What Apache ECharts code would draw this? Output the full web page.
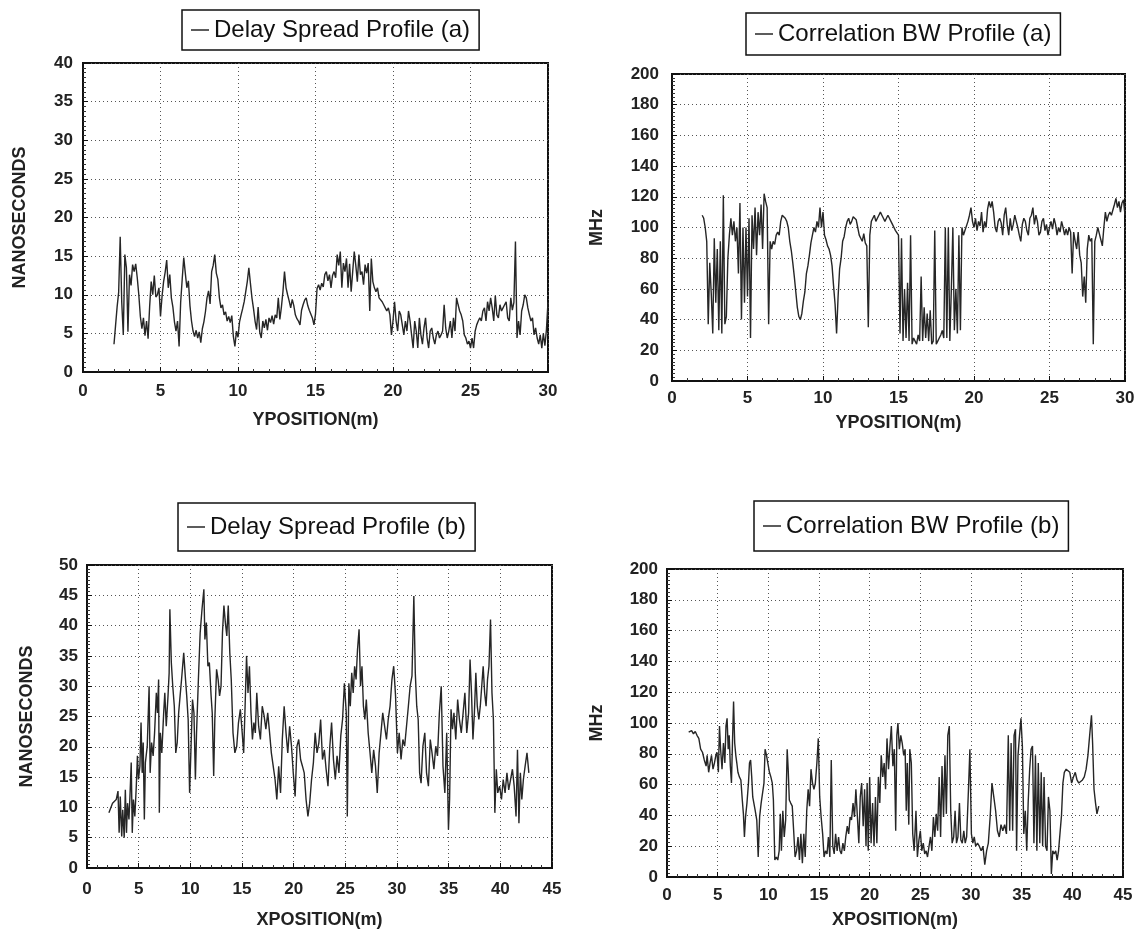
<!DOCTYPE html>
<html>
<head>
<meta charset="utf-8">
<title>Delay spread and correlation bandwidth profiles</title>
<script src="https://cdn.jsdelivr.net/npm/echarts@6/dist/echarts.min.js"></script>
<style>
  html, body { margin: 0; padding: 0; background: #fff; }
  #chart { width: 1140px; height: 937px; }
</style>
</head>
<body>
<div id="chart"></div>
<script>
// (a) runs: sampled every 0.1 m from 2.0 m to 30.0 m along Y
var delayA = [
  3.6, 6.0, 8.4, 10.3, 17.5, 9.0, 4.8, 15.2, 13.5, 5.2,
  12.6, 11.2, 13.9, 13.0, 14.0, 12.2, 10.0, 7.2, 5.6, 7.0,
  4.7, 6.6, 4.3, 8.5, 11.7, 10.0, 12.5, 9.7, 10.0, 10.9,
  7.2, 9.8, 11.7, 12.9, 14.5, 10.9, 12.6, 9.6, 8.4, 6.5,
  5.3, 6.6, 3.3, 9.0, 12.0, 14.8, 12.8, 10.9, 11.8, 8.6,
  6.6, 5.3, 4.6, 5.4, 4.4, 5.2, 3.8, 5.6, 6.5, 7.8,
  9.6, 10.5, 8.8, 13.0, 13.8, 15.2, 12.8, 12.0, 9.6, 8.3,
  8.7, 7.4, 7.8, 6.6, 7.2, 6.4, 7.3, 4.6, 3.3, 5.3,
  4.5, 6.5, 7.4, 8.2, 9.1, 10.4, 11.7, 13.5, 11.5, 9.6,
  8.2, 6.6, 5.5, 8.4, 5.2, 4.4, 6.6, 5.7, 6.8, 5.4,
  7.0, 6.4, 7.3, 6.2, 7.4, 7.0, 9.6, 6.8, 8.4, 10.4,
  13.0, 10.9, 10.0, 9.2, 8.3, 9.4, 8.6, 7.4, 6.9, 6.6,
  6.1, 8.0, 8.7, 9.3, 9.6, 8.6, 8.0, 7.9, 7.0, 6.1,
  7.5, 10.8, 11.3, 10.6, 11.5, 11.0, 12.6, 13.0, 11.8, 12.6,
  10.9, 12.5, 13.0, 12.2, 15.2, 13.8, 15.6, 10.9, 14.1, 13.0,
  14.7, 10.9, 14.0, 10.4, 13.0, 15.6, 13.8, 11.7, 15.2, 12.6,
  13.0, 11.3, 13.9, 12.8, 14.1, 7.9, 14.7, 11.7, 10.9, 10.4,
  10.9, 9.6, 9.6, 9.1, 8.7, 8.3, 7.9, 8.3, 7.4, 4.8,
  6.6, 9.1, 6.6, 5.3, 7.9, 7.4, 6.1, 4.8, 6.6, 5.3,
  7.9, 6.6, 4.8, 3.1, 6.6, 5.3, 3.1, 7.0, 4.8, 3.6,
  5.7, 7.0, 4.4, 3.1, 5.3, 5.7, 4.4, 3.6, 4.8, 5.3,
  4.4, 4.8, 5.3, 8.7, 5.7, 4.4, 5.3, 6.6, 4.4, 7.0,
  5.3, 9.6, 8.7, 7.9, 7.4, 6.6, 4.8, 4.4, 3.6, 4.0,
  3.1, 4.4, 3.1, 5.3, 6.1, 6.6, 7.0, 6.6, 7.9, 8.3,
  6.6, 9.1, 7.9, 9.6, 8.3, 6.6, 9.9, 7.4, 7.0, 8.7,
  7.9, 8.3, 8.7, 9.1, 7.0, 6.6, 9.6, 8.0, 9.0, 16.9,
  4.4, 6.6, 4.8, 7.9, 8.7, 10.0, 9.6, 8.3, 7.4, 6.6,
  7.0, 4.8, 5.7, 4.4, 3.6, 4.8, 3.1, 5.0, 3.4, 5.5,
  9.1
];

var corrA = [
  108, 106, 100, 91, 37, 77, 57, 31, 93, 51,
  86, 33, 91, 31, 121, 37, 42, 80, 95, 106,
  95, 104, 91, 100, 70, 116, 40, 100, 51, 100,
  55, 106, 28, 108, 86, 113, 82, 110, 95, 115,
  86, 122, 117, 113, 37, 91, 86, 91, 89, 95,
  97, 95, 104, 108, 107, 106, 104, 100, 91, 85,
  77, 68, 58, 48, 42, 40, 44, 52, 58, 70,
  75, 82, 90, 95, 100, 97, 104, 100, 113, 100,
  110, 95, 92, 88, 86, 82, 75, 62, 50, 31,
  55, 73, 80, 91, 94, 100, 104, 106, 102, 104,
  107, 106, 105, 100, 95, 93, 91, 96, 90, 88,
  35, 95, 104, 106, 108, 104, 106, 108, 110, 108,
  106, 104, 106, 108, 106, 104, 102, 100, 98, 97,
  95, 31, 93, 26, 60, 28, 64, 26, 95, 24,
  28, 26, 24, 30, 26, 68, 26, 48, 28, 44,
  26, 46, 24, 26, 98, 24, 26, 28, 30, 33,
  28, 100, 28, 100, 26, 60, 100, 33, 60, 31,
  95, 33, 100, 95, 98, 97, 104, 108, 113, 104,
  100, 106, 98, 104, 101, 110, 97, 104, 100, 112,
  117, 113, 117, 110, 100, 97, 104, 106, 103, 95,
  108, 113, 102, 95, 106, 98, 102, 108, 104, 100,
  95, 91, 102, 106, 104, 98, 95, 106, 108, 113,
  102, 108, 104, 95, 97, 104, 106, 98, 102, 95,
  100, 104, 99, 106, 102, 95, 100, 97, 104, 100,
  95, 99, 95, 100, 97, 70, 97, 91, 86, 97,
  82, 77, 55, 68, 51, 86, 95, 91, 93, 24,
  91, 95, 100, 96, 92, 88, 100, 110, 104, 108,
  110, 108, 109, 115, 119, 113, 117, 110, 116, 118,
  108
];

// the Y grid the (a) values were read on
var yPosA = delayA.map(function (v, i) { return +(2 + i * 0.1).toFixed(1); });

// (b) runs along X, read point by point
var delayBX = [
  2.12, 2.30, 2.47, 2.65, 2.83, 3.00, 3.11, 3.22, 3.36, 3.46, 3.60, 3.71, 3.82, 3.92,
  4.06, 4.17, 4.28, 4.38, 4.49, 4.63, 4.77, 4.88, 4.98, 5.12, 5.23, 5.34, 5.44, 5.55,
  5.65, 5.83, 6.01, 6.11, 6.25, 6.40, 6.54, 6.71, 6.82, 6.93, 7.00, 7.10, 7.24, 7.42,
  7.53, 7.67, 7.84, 7.95, 8.02, 8.16, 8.30, 8.45, 8.59, 8.73, 8.87, 9.01, 9.15, 9.36,
  9.51, 9.65, 9.79, 9.93, 10.07, 10.21, 10.35, 10.49, 10.60, 10.78, 10.95, 11.13, 11.31, 11.41,
  11.55, 11.70, 11.84, 12.01, 12.12, 12.26, 12.37, 12.54, 12.69, 12.83, 12.97, 13.11, 13.25, 13.39,
  13.53, 13.67, 13.82, 13.96, 14.13, 14.31, 14.49, 14.66, 14.84, 15.02, 15.16, 15.30, 15.44, 15.58,
  15.72, 15.87, 16.01, 16.15, 16.29, 16.43, 16.61, 16.78, 16.96, 17.14, 17.31, 17.49, 17.67, 17.84,
  18.02, 18.20, 18.37, 18.55, 18.73, 18.90, 19.08, 19.26, 19.43, 19.61, 19.79, 19.96, 20.14, 20.32,
  20.49, 20.67, 20.85, 21.02, 21.20, 21.38, 21.55, 21.73, 21.91, 22.08, 22.26, 22.44, 22.61, 22.79,
  22.97, 23.14, 23.32, 23.50, 23.67, 23.85, 24.03, 24.20, 24.38, 24.56, 24.73, 24.91, 25.09, 25.19,
  25.34, 25.48, 25.62, 25.76, 25.90, 26.04, 26.18, 26.33, 26.47, 26.61, 26.75, 26.89, 27.03, 27.21,
  27.39, 27.56, 27.74, 27.92, 28.09, 28.27, 28.45, 28.62, 28.80, 28.98, 29.15, 29.33, 29.51, 29.68,
  29.86, 30.04, 30.21, 30.39, 30.57, 30.74, 30.92, 31.10, 31.27, 31.45, 31.63, 31.77, 31.91, 32.05,
  32.19, 32.33, 32.51, 32.69, 32.86, 33.04, 33.22, 33.39, 33.57, 33.75, 33.92, 34.10, 34.28, 34.45,
  34.63, 34.81, 34.98, 35.09, 35.23, 35.37, 35.51, 35.69, 35.87, 36.04, 36.22, 36.40, 36.57, 36.75,
  36.93, 37.07, 37.21, 37.35, 37.49, 37.63, 37.77, 37.92, 38.06, 38.20, 38.34, 38.48, 38.62, 38.76,
  38.90, 39.05, 39.19, 39.33, 39.47, 39.61, 39.75, 39.93, 40.11, 40.28, 40.46, 40.64, 40.81, 40.99,
  41.17, 41.34, 41.52, 41.66, 41.80, 41.94, 42.08, 42.23, 42.40, 42.58, 42.76
];
var delayB = [
  9.1, 8.8, 10.7, 11.0, 11.3, 12.7, 5.8, 11.8, 5.2, 9.6, 5.0, 12.9, 5.8, 10.7,
  8.0, 12.4, 17.4, 5.8, 11.3, 8.5, 13.5, 18.5, 14.6, 16.8, 24.0, 15.7, 20.7, 8.0,
  17.4, 20.1, 30.0, 15.7, 20.7, 18.5, 22.3, 28.9, 25.6, 31.1, 9.1, 22.3, 19.0, 25.6,
  28.9, 23.4, 28.4, 32.2, 42.7, 33.9, 30.0, 26.7, 19.0, 20.7, 25.6, 28.4, 31.1, 35.5,
  31.7, 28.4, 24.5, 12.4, 20.1, 27.8, 25.6, 14.6, 22.3, 31.1, 38.8, 42.7, 46.0, 37.7,
  40.5, 33.3, 33.9, 28.4, 25.6, 15.2, 24.5, 32.8, 31.1, 28.4, 30.0, 38.8, 43.3, 40.5,
  38.3, 43.3, 35.5, 31.1, 22.3, 19.0, 20.1, 24.0, 26.2, 22.3, 19.0, 26.7, 35.0, 28.9,
  33.3, 25.6, 21.2, 24.0, 22.3, 28.9, 23.4, 21.2, 26.7, 25.1, 22.9, 25.6, 22.3, 19.0,
  16.8, 14.6, 11.3, 16.8, 12.4, 21.2, 26.7, 22.3, 19.0, 23.4, 20.1, 15.7, 11.8, 20.1,
  21.2, 17.9, 16.8, 15.7, 11.3, 8.5, 10.7, 14.6, 17.4, 22.3, 19.0, 20.7, 24.5, 17.9,
  19.5, 16.3, 13.5, 20.1, 24.0, 17.9, 14.6, 18.5, 15.7, 21.8, 24.5, 30.5, 25.6, 8.5,
  30.5, 26.7, 32.2, 28.9, 33.3, 31.1, 36.1, 39.4, 30.0, 33.3, 26.7, 24.5, 27.8, 22.3,
  19.0, 15.7, 19.5, 16.8, 12.4, 19.0, 22.3, 25.6, 23.4, 21.2, 24.5, 26.7, 31.1, 33.3,
  28.4, 19.0, 22.3, 17.9, 21.2, 20.1, 23.4, 26.7, 30.0, 31.7, 44.9, 32.2, 26.7, 24.5,
  15.7, 14.0, 20.1, 22.3, 15.7, 13.5, 21.2, 19.0, 16.3, 20.1, 18.5, 25.6, 30.0, 16.8,
  12.4, 22.3, 6.3, 11.3, 26.2, 22.9, 25.6, 21.2, 27.8, 24.5, 22.3, 25.6, 28.9, 22.3,
  25.6, 34.4, 28.9, 21.2, 25.6, 32.2, 26.7, 24.5, 26.7, 30.0, 33.3, 28.9, 26.7, 31.1,
  33.3, 41.0, 28.9, 24.5, 9.1, 16.3, 12.4, 13.5, 11.3, 14.6, 12.4, 15.7, 12.9, 14.6,
  16.3, 13.5, 8.5, 19.5, 7.4, 15.7, 11.3, 14.6, 16.8, 19.0, 15.7
];

var corrBX = [
  2.14, 2.43, 2.61, 2.79, 2.96, 3.14, 3.32, 3.50, 3.68, 3.86, 3.96, 4.11, 4.25, 4.39,
  4.54, 4.68, 4.82, 4.93, 5.07, 5.18, 5.29, 5.43, 5.57, 5.71, 5.82, 5.93, 6.04, 6.14,
  6.25, 6.36, 6.46, 6.57, 6.68, 6.79, 6.89, 7.00, 7.14, 7.29, 7.43, 7.54, 7.64, 7.75,
  7.89, 8.04, 8.14, 8.25, 8.36, 8.46, 8.57, 8.71, 8.86, 9.00, 9.14, 9.29, 9.43, 9.57,
  9.68, 9.82, 9.96, 10.11, 10.25, 10.39, 10.50, 10.64, 10.79, 10.93, 11.07, 11.18, 11.29, 11.43,
  11.57, 11.71, 11.86, 11.96, 12.07, 12.21, 12.36, 12.50, 12.64, 12.79, 12.93, 13.07, 13.21, 13.36,
  13.50, 13.64, 13.79, 13.93, 14.07, 14.21, 14.36, 14.50, 14.64, 14.79, 14.93, 15.07, 15.21, 15.36,
  15.50, 15.64, 15.79, 15.93, 16.07, 16.21, 16.36, 16.50, 16.64, 16.79, 16.93, 17.07, 17.21, 17.36,
  17.50, 17.64, 17.79, 17.93, 18.07, 18.21, 18.36, 18.50, 18.64, 18.79, 18.93, 19.07, 19.21, 19.36,
  19.50, 19.64, 19.75, 19.86, 20.00, 20.14, 20.29, 20.43, 20.57, 20.71, 20.86, 21.00, 21.14, 21.29,
  21.43, 21.57, 21.71, 21.86, 22.00, 22.14, 22.29, 22.43, 22.57, 22.68, 22.79, 22.93, 23.07, 23.21,
  23.36, 23.50, 23.61, 23.71, 23.86, 23.96, 24.11, 24.25, 24.39, 24.57, 24.71, 24.86, 25.00, 25.14,
  25.29, 25.43, 25.57, 25.71, 25.86, 26.00, 26.14, 26.29, 26.43, 26.57, 26.71, 26.86, 27.00, 27.14,
  27.29, 27.43, 27.57, 27.71, 27.86, 28.00, 28.14, 28.29, 28.43, 28.57, 28.71, 28.86, 29.00, 29.14,
  29.29, 29.43, 29.57, 29.75, 29.89, 30.04, 30.18, 30.32, 30.46, 30.64, 30.82, 31.00, 31.18, 31.36,
  31.54, 31.71, 31.89, 32.07, 32.25, 32.43, 32.61, 32.79, 32.96, 33.14, 33.32, 33.50, 33.68, 33.82,
  33.96, 34.11, 34.25, 34.39, 34.50, 34.64, 34.79, 34.93, 35.07, 35.21, 35.36, 35.50, 35.64, 35.79,
  35.93, 36.07, 36.21, 36.36, 36.50, 36.64, 36.79, 36.93, 37.07, 37.21, 37.36, 37.50, 37.64, 37.79,
  37.93, 38.07, 38.21, 38.36, 38.50, 38.64, 38.79, 38.93, 39.07, 39.21, 39.39, 39.57, 39.75, 39.93,
  40.11, 40.29, 40.46, 40.64, 40.82, 41.00, 41.18, 41.36, 41.54, 41.71, 41.89, 42.00, 42.14, 42.29,
  42.43, 42.61
];
var corrB = [
  94, 95, 93, 94.5, 92, 90, 83, 81, 76, 72, 79, 68, 74, 79,
  70, 74, 79, 81, 68, 98, 83, 70, 87, 74, 98, 103, 83, 92,
  72, 61, 87, 114, 87, 79, 74, 68, 65, 63, 50, 41, 26, 39,
  48, 61, 74, 76, 65, 52, 52, 43, 37, 13, 39, 48, 48, 61,
  83, 79, 79, 68, 65, 61, 50, 11, 13, 11, 17, 41, 17, 43,
  26, 37, 83, 70, 50, 48, 46, 30, 13, 17, 26, 11, 28, 9,
  28, 13, 43, 57, 46, 70, 61, 57, 61, 74, 90, 52, 39, 28,
  13, 17, 15, 26, 13, 76, 20, 15, 28, 17, 26, 17, 15, 22,
  17, 26, 33, 28, 39, 37, 48, 39, 57, 39, 22, 52, 61, 33,
  57, 20, 61, 17, 65, 22, 48, 20, 52, 22, 65, 48, 79, 65,
  74, 57, 90, 70, 85, 98, 72, 83, 30, 92, 100, 83, 92, 87,
  79, 83, 43, 74, 34, 83, 74, 28, 17, 43, 13, 24, 30, 17,
  22, 15, 17, 13, 20, 26, 17, 39, 26, 41, 30, 65, 26, 72,
  39, 79, 41, 92, 98, 43, 22, 26, 43, 22, 26, 48, 24, 22,
  30, 22, 26, 57, 83, 28, 22, 26, 20, 22, 20, 17, 20, 8,
  17, 22, 39, 61, 52, 43, 30, 26, 34, 30, 34, 28, 92, 30,
  87, 30, 92, 96, 17, 79, 92, 103, 85, 28, 43, 17, 48, 70,
  83, 85, 22, 79, 17, 74, 22, 68, 20, 65, 20, 17, 52, 43,
  2, 17, 15, 17, 11, 17, 17, 40, 61, 68, 70, 70, 68, 61,
  65, 68, 63, 61, 61, 63, 65, 70, 79, 92, 105, 87, 57, 48,
  41, 46
];

var FONT = '"Liberation Sans", Arial, Helvetica, sans-serif';
var INK = '#111';
var TRACE = '#262626';

function pairs(xs, ys) {
  return ys.map(function (v, i) { return [xs[i], v]; });
}

function legendBox(name, left, top, padV) {
  return {
    data: [name],
    left: left,
    top: top,
    selectedMode: false,
    borderColor: INK,
    borderWidth: 1.5,
    padding: [padV, 9],
    icon: 'rect',
    itemWidth: 18,
    itemHeight: 1.5,
    textStyle: { fontFamily: FONT, fontSize: 24, color: INK }
  };
}

function xAxisFor(idx, max, name, labelMargin, nameGap) {
  return {
    gridIndex: idx,
    type: 'value',
    min: 0,
    max: max,
    interval: 5,
    name: name,
    nameLocation: 'middle',
    nameGap: nameGap,
    nameTextStyle: { fontFamily: FONT, fontSize: 18, fontWeight: 'bold', color: '#222' },
    axisLine: { show: true, onZero: false, lineStyle: { color: INK, width: 2 } },
    axisTick: { show: true, inside: true, length: 5, lineStyle: { color: INK, width: 1 } },
    minorTick: { show: true, splitNumber: 5, length: 3, lineStyle: { color: '#333' } },
    splitLine: { show: true, lineStyle: { color: '#555', width: 1, type: [1, 3] } },
    axisLabel: { fontFamily: FONT, fontSize: 17, fontWeight: 'bold', color: '#222', margin: labelMargin }
  };
}

function yAxisFor(idx, max, step, name, labelMargin, nameGap) {
  return {
    gridIndex: idx,
    type: 'value',
    min: 0,
    max: max,
    interval: step,
    name: name,
    nameLocation: 'middle',
    nameRotate: 90,
    nameGap: nameGap,
    nameTextStyle: { fontFamily: FONT, fontSize: 18, fontWeight: 'bold', color: '#222' },
    axisLine: { show: true, onZero: false, lineStyle: { color: INK, width: 2 } },
    axisTick: { show: true, inside: true, length: 5, lineStyle: { color: INK, width: 1 } },
    minorTick: { show: true, splitNumber: 8, length: 3, lineStyle: { color: '#333' } },
    splitLine: { show: true, lineStyle: { color: '#555', width: 1, type: [1, 3] } },
    axisLabel: { fontFamily: FONT, fontSize: 17, fontWeight: 'bold', color: '#222', margin: labelMargin }
  };
}

function trace(name, idx, data) {
  return {
    name: name,
    type: 'line',
    xAxisIndex: idx,
    yAxisIndex: idx,
    data: data,
    showSymbol: false,
    symbol: 'none',
    color: TRACE,
    lineStyle: { color: TRACE, width: 1.4 }
  };
}

var chart = echarts.init(document.getElementById('chart'));
chart.setOption({
  animation: false,
  backgroundColor: '#fff',
  textStyle: { fontFamily: FONT },
  legend: [
    legendBox('Delay Spread Profile (a)', 182, 10, 8),
    legendBox('Correlation BW Profile (a)', 746, 13, 9),
    legendBox('Delay Spread Profile (b)', 178, 503, 12),
    legendBox('Correlation BW Profile (b)', 754, 501, 13)
  ],
  grid: [
    { left: 83, top: 63, width: 465, height: 309 },
    { left: 672, top: 74, width: 453, height: 307 },
    { left: 87, top: 565, width: 465, height: 303 },
    { left: 667, top: 569, width: 456, height: 308 }
  ].map(function (g) {
    g.show = true;
    g.borderColor = INK;
    g.borderWidth = 2;
    g.containLabel = false;
    g.outerBoundsMode = 'none';
    return g;
  }),
  xAxis: [
    xAxisFor(0, 30, 'YPOSITION(m)', 11, 39),
    xAxisFor(1, 30, 'YPOSITION(m)', 9, 33),
    xAxisFor(2, 45, 'XPOSITION(m)', 13, 43),
    xAxisFor(3, 45, 'XPOSITION(m)', 10, 34)
  ],
  yAxis: [
    yAxisFor(0, 40, 5, 'NANOSECONDS', 10, 54),
    yAxisFor(1, 200, 20, 'MHz', 13, 66),
    yAxisFor(2, 50, 5, 'NANOSECONDS', 9, 51),
    yAxisFor(3, 200, 20, 'MHz', 9, 61)
  ],
  series: [
    trace('Delay Spread Profile (a)', 0, pairs(yPosA, delayA)),
    trace('Correlation BW Profile (a)', 1, pairs(yPosA, corrA)),
    trace('Delay Spread Profile (b)', 2, pairs(delayBX, delayB)),
    trace('Correlation BW Profile (b)', 3, pairs(corrBX, corrB))
  ]
});
</script>
</body>
</html>
